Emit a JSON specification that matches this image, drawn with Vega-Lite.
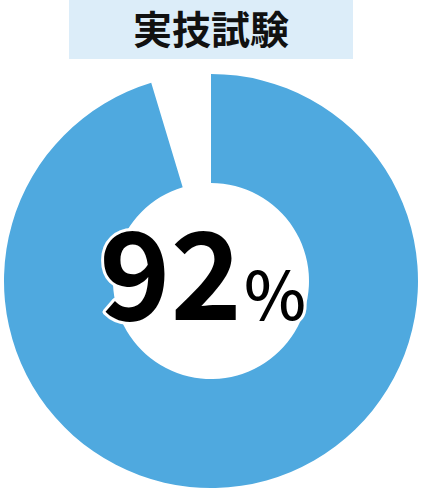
{
  "$schema": "https://vega.github.io/schema/vega-lite/v6.json",
  "padding": 0,
  "background": "white",
  "center": true,
  "spacing": 13,
  "config": {"view": {"stroke": null}},
  "datasets": {"result": [{"exam": "実技試験", "rate": 92}]},
  "vconcat": [
    {
      "width": 284,
      "height": 59,
      "view": {"fill": "#dcedf9", "stroke": null},
      "data": {"name": "result"},
      "mark": {"type": "text", "font": "Noto Sans CJK JP", "fontWeight": "bold", "fontSize": 39, "color": "#111111", "baseline": "middle", "dy": 2},
      "encoding": {"text": {"field": "exam"}}
    },
    {
      "width": 422,
      "height": 418,
      "data": {"name": "result"},
      "layer": [
        {
          "mark": {"type": "arc", "outerRadius": 207, "innerRadius": 98, "color": "#4fa9df"},
          "encoding": {"theta": {"field": "rate", "type": "quantitative", "scale": {"domain": [0, 96.5]}}}
        },
        {
          "mark": {"type": "text", "font": "Noto Sans CJK JP", "fontWeight": "bold", "fontSize": 121, "align": "right", "baseline": "alphabetic", "dx": 31, "dy": 39, "fill": "white", "stroke": "white", "strokeWidth": 6, "strokeJoin": "round"},
          "encoding": {"text": {"field": "rate"}}
        },
        {
          "mark": {"type": "text", "font": "Noto Sans CJK JP", "fontWeight": 500, "fontSize": 66, "align": "left", "baseline": "alphabetic", "dx": 33, "dy": 39, "fill": "white", "stroke": "white", "strokeWidth": 6, "strokeJoin": "round", "text": "%"},
          "encoding": {}
        },
        {
          "mark": {"type": "text", "font": "Noto Sans CJK JP", "fontWeight": "bold", "fontSize": 121, "align": "right", "baseline": "alphabetic", "dx": 31, "dy": 39, "fill": "#000000"},
          "encoding": {"text": {"field": "rate"}}
        },
        {
          "mark": {"type": "text", "font": "Noto Sans CJK JP", "fontWeight": 500, "fontSize": 66, "align": "left", "baseline": "alphabetic", "dx": 33, "dy": 39, "fill": "#000000", "text": "%"},
          "encoding": {}
        }
      ]
    }
  ]
}
